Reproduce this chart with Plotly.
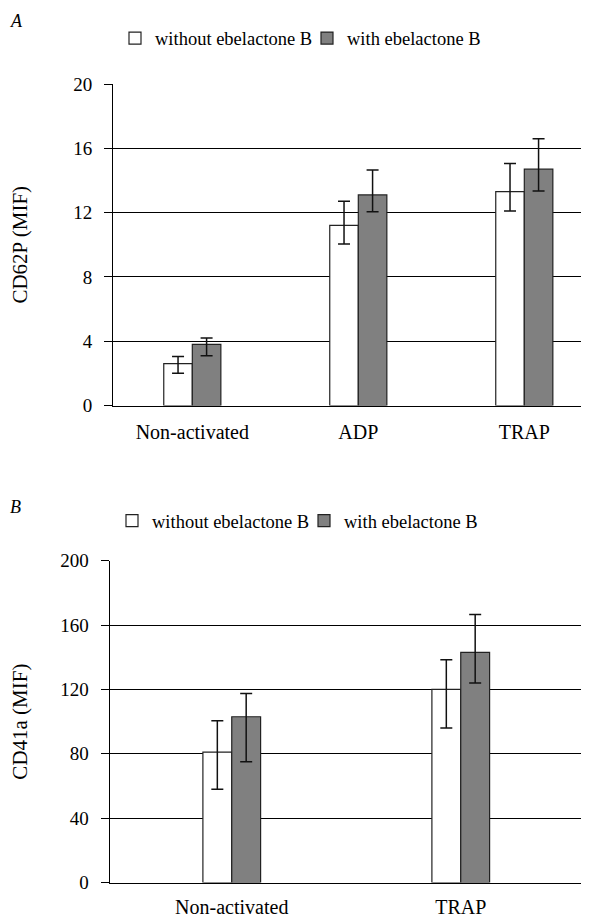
import plotly.graph_objects as go

# ---- data ----
series_names = ["without ebelactone B", "with ebelactone B"]

cats_a = ["Non-activated", "ADP", "TRAP"]
cd62p_without = [2.6, 11.2, 13.3]
cd62p_without_err_plus = [0.45, 1.5, 1.75]
cd62p_without_err_minus = [0.6, 1.15, 1.2]
cd62p_with = [3.8, 13.1, 14.7]
cd62p_with_err_plus = [0.4, 1.55, 1.9]
cd62p_with_err_minus = [0.7, 1.05, 1.35]
ticks_a = [0, 4, 8, 12, 16, 20]

cats_b = ["Non-activated", "TRAP"]
cd41a_without = [81, 120]
cd41a_without_err_plus = [19.5, 18.5]
cd41a_without_err_minus = [23, 24]
cd41a_with = [103, 143]
cd41a_with_err_plus = [14.5, 23.5]
cd41a_with_err_minus = [28, 19]
ticks_b = [0, 40, 80, 120, 160, 200]

FONT = "Liberation Serif"
W, H = 589, 919
ML = 100
PAGE_OFFSET = 8  # default body margin of the html page

fig = go.Figure()

def add_bars(cats, vals, ep, em, name, fill, xa, ya, legend, offset, width):
    fig.add_trace(go.Bar(
        x=cats, y=vals, name=name, xaxis=xa, yaxis=ya, legend=legend,
        marker=dict(color=fill, line=dict(color="#222222", width=1.2)),
        offset=offset, width=width, showlegend=True,
        error_y=dict(type="data", symmetric=False, array=ep, arrayminus=em,
                     color="#111111", thickness=1.5, width=6),
    ))

wa = 0.172
wb = 0.126
add_bars(cats_a, cd62p_without, cd62p_without_err_plus, cd62p_without_err_minus,
         series_names[0], "white", "x", "y", "legend", -wa, wa)
add_bars(cats_a, cd62p_with, cd62p_with_err_plus, cd62p_with_err_minus,
         series_names[1], "#808080", "x", "y", "legend", 0, wa)
add_bars(cats_b, cd41a_without, cd41a_without_err_plus, cd41a_without_err_minus,
         series_names[0], "white", "x2", "y2", "legend2", -wb, wb)
add_bars(cats_b, cd41a_with, cd41a_with_err_plus, cd41a_with_err_minus,
         series_names[1], "#808080", "x2", "y2", "legend2", 0, wb)

def px_x(p):
    return (p - PAGE_OFFSET - ML) / (W - ML)

def px_y(p):
    return 1 - (p - PAGE_OFFSET) / H

tickfont = dict(family=FONT, size=19, color="black")
yax_common = dict(showline=True, linecolor="black", linewidth=1.3,
                  showgrid=True, gridcolor="black", gridwidth=1,
                  ticks="outside", ticklen=8, tickcolor="black", tickwidth=1.3,
                  ticklabelstandoff=8,
                  tickfont=tickfont, zeroline=False, fixedrange=True, automargin=False)
xax_common = dict(showline=True, linecolor="black", linewidth=1.3,
                  showgrid=False, ticks="", tickfont=dict(family=FONT, size=20, color="black"),
                  type="category", fixedrange=True, automargin=False)

legend_font = dict(family=FONT, size=18.5, color="black")
title_font = dict(family=FONT, size=21, color="black")

fig.update_layout(
    template="none",
    width=W, height=H,
    margin=dict(l=ML, r=0, t=0, b=0, pad=0, autoexpand=False),
    paper_bgcolor="white", plot_bgcolor="white",
    font=dict(family=FONT, color="black"),
    showlegend=True,
    xaxis=dict(domain=[px_x(113.3), 1], anchor="y", range=[-0.476, 2.438],
               ticklabelstandoff=8, **xax_common),
    yaxis=dict(domain=[px_y(405.5), px_y(84)], anchor="x", range=[0, 20],
               tickvals=ticks_a,
               title=dict(text="CD62P (MIF)", font=title_font, standoff=42),
               **yax_common),
    xaxis2=dict(domain=[px_x(109.7), 1], anchor="y2", range=[-0.533, 1.595],
                ticklabelstandoff=6, **xax_common),
    yaxis2=dict(domain=[px_y(882.5), px_y(560.7)], anchor="x2", range=[0, 200],
                tickvals=ticks_b,
                title=dict(text="CD41a (MIF)", font=title_font, standoff=42),
                **yax_common),
    legend=dict(orientation="h", x=px_x(115), y=px_y(38.5), xanchor="left", yanchor="middle",
                font=legend_font, bgcolor="rgba(0,0,0,0)", entrywidth=147,
                itemclick=False, itemdoubleclick=False),
    legend2=dict(orientation="h", x=px_x(112), y=px_y(521), xanchor="left", yanchor="middle",
                 font=legend_font, bgcolor="rgba(0,0,0,0)", entrywidth=147,
                 itemclick=False, itemdoubleclick=False),
    annotations=[
        dict(text="<i>A</i>", xref="paper", yref="paper", x=px_x(8), y=px_y(21),
             xanchor="left", yanchor="middle", showarrow=False,
             font=dict(family=FONT, size=18, color="black")),
        dict(text="<i>B</i>", xref="paper", yref="paper", x=px_x(8), y=px_y(507),
             xanchor="left", yanchor="middle", showarrow=False,
             font=dict(family=FONT, size=18, color="black")),
    ],
)

fig.write_html("out.html")
